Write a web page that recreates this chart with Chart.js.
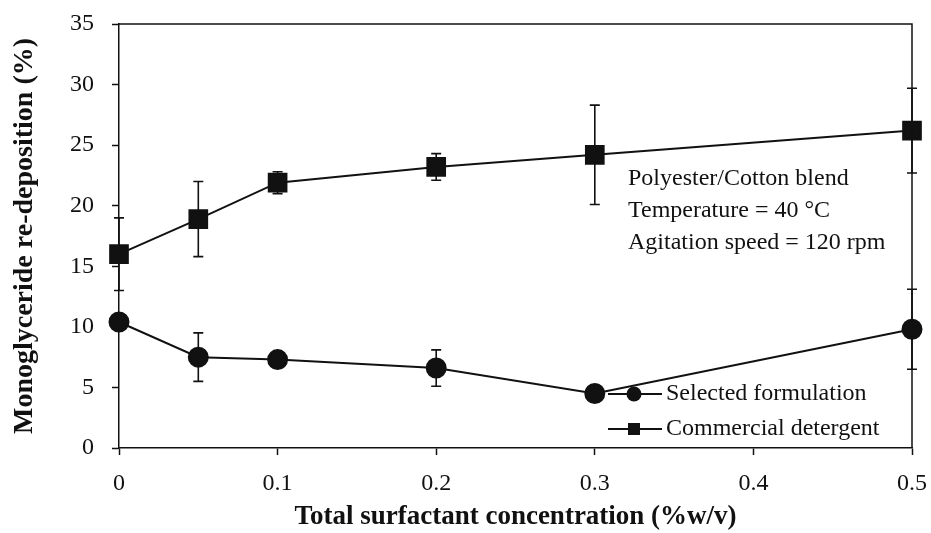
<!DOCTYPE html>
<html>
<head>
<meta charset="utf-8">
<script src="https://cdn.jsdelivr.net/npm/chart.js@4.4.1/dist/chart.umd.min.js"></script>
<style>
  body { margin: 0; background: #fff; }
  #wrap { width: 931px; height: 533px; }
</style>
</head>
<body>
<div id="wrap"><canvas id="myChart" width="931" height="533"></canvas></div>
<script>
  // data
  var concentration = [0, 0.05, 0.1, 0.2, 0.3, 0.5];
  var selected = [10.4, 7.5, 7.3, 6.6, 4.5, 9.8];
  var selectedErr = [0.4, 2.0, 0.3, 1.5, 0.3, 3.3];
  var commercial = [16.0, 18.9, 21.9, 23.2, 24.2, 26.2];
  var commercialErr = [3.0, 3.1, 0.9, 1.1, 4.1, 3.5];
  var xTicks = [0, 0.1, 0.2, 0.3, 0.4, 0.5];
  var yTicks = [0, 5, 10, 15, 20, 25, 30, 35];
  var seriesNames = ["Selected formulation", "Commercial detergent"];
  var noteLines = ["Polyester/Cotton blend", "Temperature = 40 \u00B0C", "Agitation speed = 120 rpm"];

  var ink = "#111";
  var serif = "'Liberation Serif', 'Times New Roman', serif";

  function pts(ys) {
    return concentration.map(function (x, i) { return { x: x, y: ys[i] }; });
  }

  // error bars, frame, note and legend
  var extras = {
    id: 'extras',
    beforeDatasetsDraw: function (chart) {
      var ctx = chart.ctx, xs = chart.scales.x, ys = chart.scales.y;
      var errs = [selectedErr, commercialErr];
      ctx.save();
      ctx.strokeStyle = ink;
      ctx.lineWidth = 1.6;
      chart.data.datasets.forEach(function (ds, d) {
        ds.data.forEach(function (p, i) {
          var e = errs[d][i];
          var px = xs.getPixelForValue(p.x);
          var top = ys.getPixelForValue(p.y + e);
          var bot = ys.getPixelForValue(p.y - e);
          ctx.beginPath();
          ctx.moveTo(px, top); ctx.lineTo(px, bot);
          ctx.moveTo(px - 5, top); ctx.lineTo(px + 5, top);
          ctx.moveTo(px - 5, bot); ctx.lineTo(px + 5, bot);
          ctx.stroke();
        });
      });
      ctx.restore();
    },
    afterDraw: function (chart) {
      var ctx = chart.ctx, a = chart.chartArea;
      ctx.save();
      ctx.strokeStyle = ink;
      ctx.lineWidth = 1.5;
      ctx.beginPath();
      ctx.moveTo(a.left, a.top); ctx.lineTo(a.right, a.top); ctx.lineTo(a.right, a.bottom);
      ctx.stroke();

      ctx.fillStyle = ink;
      ctx.font = "24px " + serif;
      ctx.textBaseline = 'middle';
      ctx.textAlign = 'left';
      noteLines.forEach(function (t, i) {
        ctx.fillText(t, 628, 179 + i * 32);
      });

      // legend: line - marker - line
      var rows = [394, 429];
      rows.forEach(function (y, i) {
        ctx.lineWidth = 2;
        ctx.beginPath();
        ctx.moveTo(608, y); ctx.lineTo(662, y);
        ctx.stroke();
        ctx.beginPath();
        if (i === 0) {
          ctx.arc(634, y, 7.5, 0, Math.PI * 2);
        } else {
          ctx.rect(628, y - 6, 12, 12);
        }
        ctx.fill();
        ctx.fillText(seriesNames[i], 666, y);
      });
      ctx.restore();
    }
  };

  var ctx = document.getElementById("myChart").getContext('2d');
  var myChart = new Chart(ctx, {
    type: 'scatter',
    data: {
      datasets: [{
        label: seriesNames[0],
        data: pts(selected),
        showLine: true,
        borderColor: ink,
        backgroundColor: ink,
        borderWidth: 2,
        pointStyle: 'circle',
        pointRadius: 9.5,
        pointHoverRadius: 9.5,
        clip: false
      },
      {
        label: seriesNames[1],
        data: pts(commercial),
        showLine: true,
        borderColor: ink,
        backgroundColor: ink,
        borderWidth: 2,
        pointStyle: 'rect',
        pointRadius: 12.5,
        pointHoverRadius: 12.5,
        clip: false
      }]
    },
    plugins: [extras],
    options: {
      responsive: false,
      animation: false,
      layout: { padding: { top: 24, right: 19, left: 0, bottom: 0 } },
      plugins: { legend: { display: false }, tooltip: { enabled: false } },
      scales: {
        x: {
          type: 'linear', min: 0, max: 0.5,
          afterBuildTicks: function (s) { s.ticks = xTicks.map(function (v) { return { value: v }; }); },
          afterFit: function (s) { s.height = 85; s.paddingLeft = 0; s.paddingRight = 0; },
          border: { display: true, color: ink, width: 1.5 },
          grid: { display: true, drawOnChartArea: false, drawTicks: true, tickLength: 7, tickColor: ink, tickWidth: 1.5 },
          ticks: {
            color: ink, font: { family: serif, size: 24 }, padding: 14,
            callback: function (v) { return String(Number(v.toFixed(1))); }
          },
          title: {
            display: true, text: "Total surfactant concentration (%w/v)",
            color: ink, font: { family: serif, size: 27, weight: 'bold' }, padding: { top: 0, bottom: 0 }
          }
        },
        y: {
          min: 0, max: 35,
          afterBuildTicks: function (s) { s.ticks = yTicks.map(function (v) { return { value: v }; }); },
          afterFit: function (s) { s.width = 119; s.paddingTop = 0; s.paddingBottom = 0; },
          border: { display: true, color: ink, width: 1.5 },
          grid: { display: true, drawOnChartArea: false, drawTicks: true, tickLength: 7, tickColor: ink, tickWidth: 1.5 },
          ticks: { color: ink, font: { family: serif, size: 24 }, padding: 18 },
          title: {
            display: true, text: "Monoglyceride re-deposition (%)",
            color: ink, font: { family: serif, size: 28, weight: 'bold' }, padding: { top: 8, bottom: 0 }
          }
        }
      }
    }
  });
</script>
</body>
</html>
